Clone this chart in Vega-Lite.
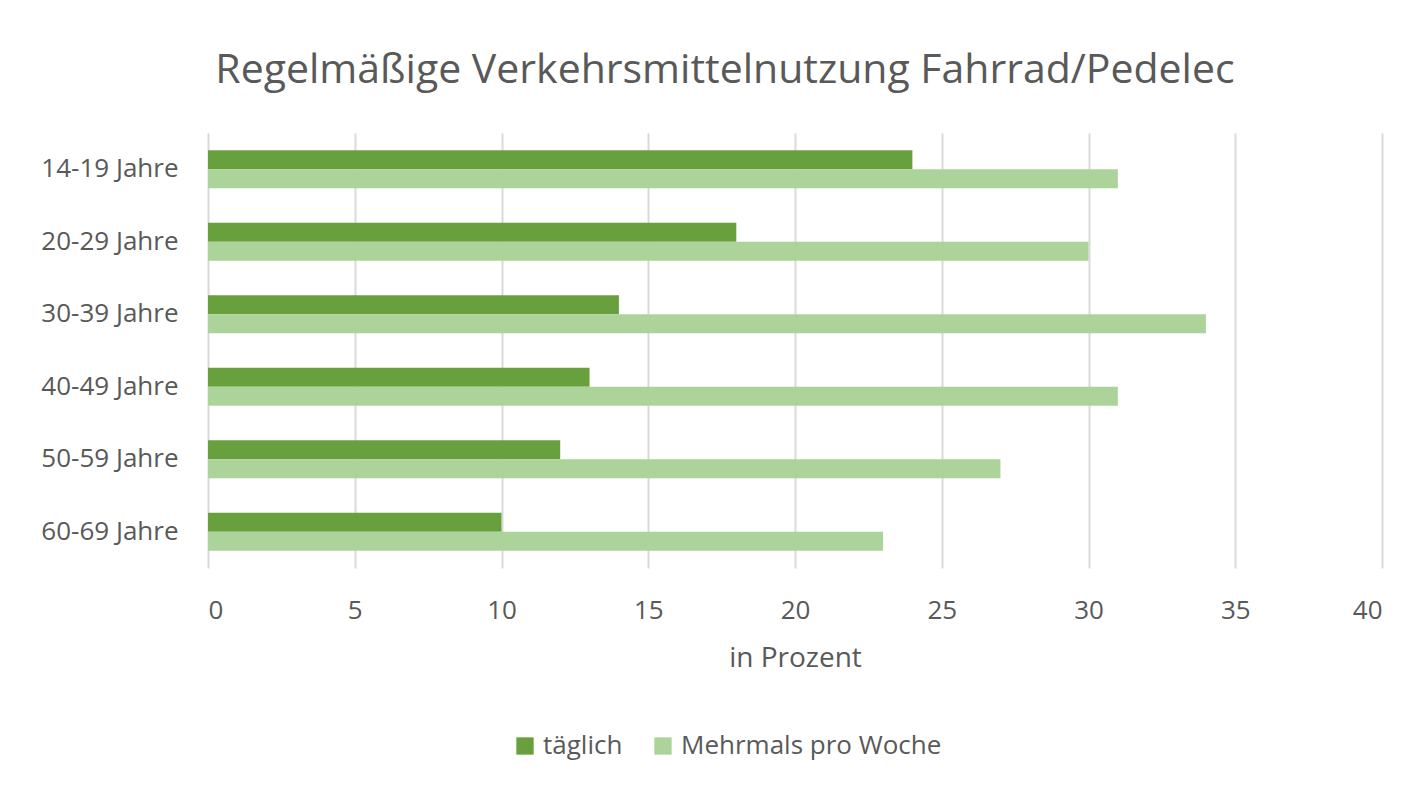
{
  "$schema": "https://vega.github.io/schema/vega-lite/v6.json",
  "autosize": "none",
  "width": 1174,
  "height": 435,
  "padding": {"left": 208, "top": 133, "right": 41, "bottom": 223},
  "background": "white",
  "title": {
    "text": "Regelmäßige Verkehrsmittelnutzung Fahrrad/Pedelec",
    "font": "Open Sans",
    "fontSize": 41,
    "fontWeight": "normal",
    "color": "#595959",
    "anchor": "middle",
    "dx": -70,
    "offset": 41
  },
  "data": {
    "values": [
      {"Alter": "14-19 Jahre", "Serie": "täglich", "Wert": 24},
      {"Alter": "14-19 Jahre", "Serie": "Mehrmals pro Woche", "Wert": 31},
      {"Alter": "20-29 Jahre", "Serie": "täglich", "Wert": 18},
      {"Alter": "20-29 Jahre", "Serie": "Mehrmals pro Woche", "Wert": 30},
      {"Alter": "30-39 Jahre", "Serie": "täglich", "Wert": 14},
      {"Alter": "30-39 Jahre", "Serie": "Mehrmals pro Woche", "Wert": 34},
      {"Alter": "40-49 Jahre", "Serie": "täglich", "Wert": 13},
      {"Alter": "40-49 Jahre", "Serie": "Mehrmals pro Woche", "Wert": 31},
      {"Alter": "50-59 Jahre", "Serie": "täglich", "Wert": 12},
      {"Alter": "50-59 Jahre", "Serie": "Mehrmals pro Woche", "Wert": 27},
      {"Alter": "60-69 Jahre", "Serie": "täglich", "Wert": 10},
      {"Alter": "60-69 Jahre", "Serie": "Mehrmals pro Woche", "Wert": 23}
    ]
  },
  "mark": {"type": "bar"},
  "encoding": {
    "y": {
      "field": "Alter",
      "type": "nominal",
      "sort": null,
      "title": null,
      "scale": {"paddingInner": 0.476, "paddingOuter": 0.238},
      "axis": {
        "domain": false,
        "ticks": false,
        "grid": false,
        "labelFont": "Open Sans",
        "labelFontSize": 26,
        "labelColor": "#595959",
        "labelPadding": 30
      }
    },
    "yOffset": {
      "field": "Serie",
      "type": "nominal",
      "sort": ["täglich", "Mehrmals pro Woche"]
    },
    "x": {
      "field": "Wert",
      "type": "quantitative",
      "scale": {"domain": [0, 40], "nice": false},
      "title": "in Prozent",
      "axis": {
        "values": [0, 5, 10, 15, 20, 25, 30, 35, 40],
        "domain": false,
        "ticks": false,
        "grid": true,
        "gridColor": "#d9d9d9",
        "gridWidth": 2,
        "labelFont": "Open Sans",
        "labelFontSize": 26,
        "labelColor": "#595959",
        "labelPadding": 29,
        "titleFont": "Open Sans",
        "titleFontSize": 28,
        "titleFontWeight": "normal",
        "titleColor": "#595959",
        "titlePadding": 21
      }
    },
    "color": {
      "field": "Serie",
      "type": "nominal",
      "sort": ["täglich", "Mehrmals pro Woche"],
      "scale": {"domain": ["täglich", "Mehrmals pro Woche"], "range": ["#67a03d", "#acd49a"]},
      "legend": {
        "title": null,
        "orient": "none",
        "direction": "horizontal",
        "legendX": 304,
        "legendY": 600,
        "symbolType": "square",
        "symbolSize": 300,
        "symbolStrokeWidth": 0,
        "symbolOpacity": 1,
        "labelFont": "Open Sans",
        "labelFontSize": 26,
        "labelColor": "#595959",
        "labelOffset": 5,
        "labelLimit": 400,
        "columnPadding": 27
      }
    }
  },
  "config": {
    "view": {"stroke": null}
  }
}
